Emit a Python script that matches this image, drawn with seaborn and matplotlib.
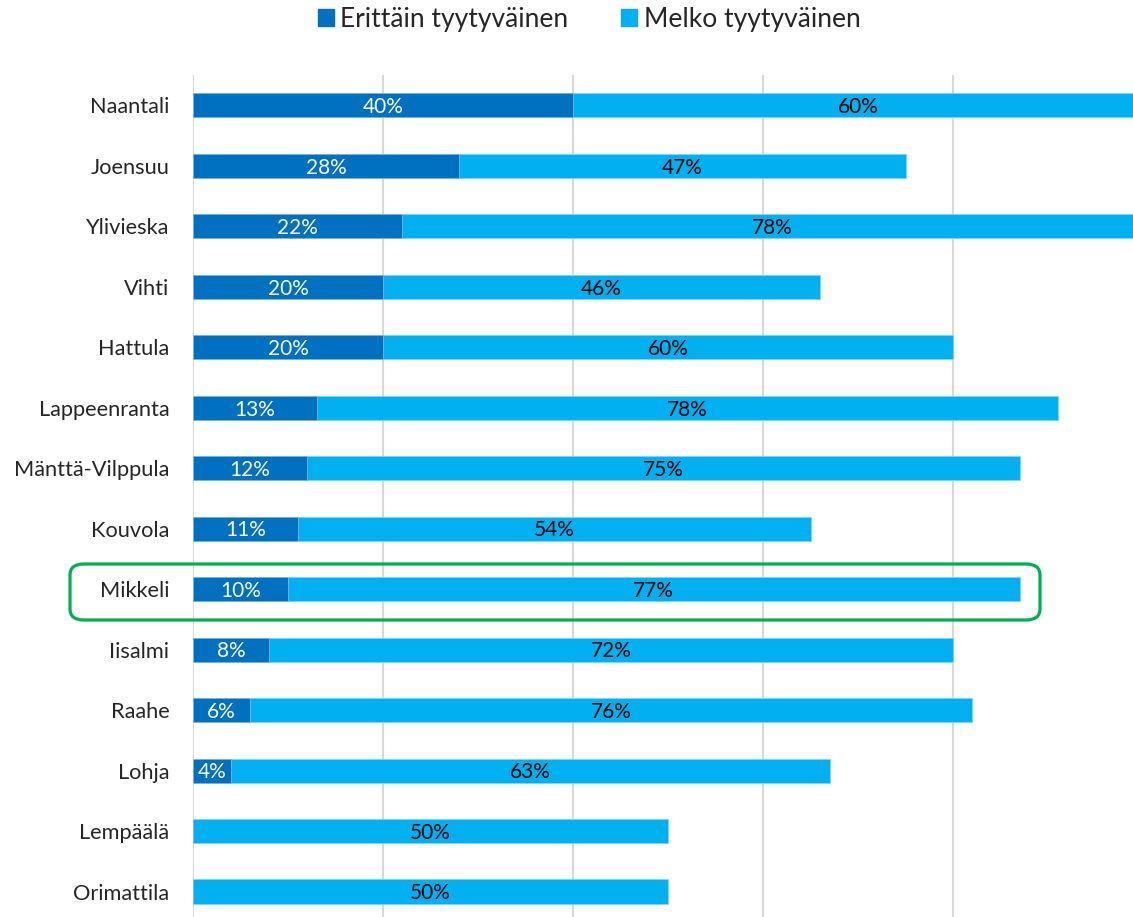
import pandas as pd
import numpy as np
import matplotlib.pyplot as plt
import seaborn as sns
from matplotlib.patches import Patch, FancyBboxPatch

# Data
kunnat = ['Naantali', 'Joensuu', 'Ylivieska', 'Vihti', 'Hattula', 'Lappeenranta',
          'Mänttä-Vilppula', 'Kouvola', 'Mikkeli', 'Iisalmi', 'Raahe', 'Lohja',
          'Lempäälä', 'Orimattila']
erittain = [40, 28, 22, 20, 20, 13, 12, 11, 10, 8, 6, 4, 0, 0]
melko = [60, 47, 78, 46, 60, 78, 75, 54, 77, 72, 76, 63, 50, 50]

dark_blue = '#0070C0'
light_blue = '#00B0F0'

df = pd.DataFrame({'kunta': kunnat, 'erittain': erittain, 'melko': melko})
df['yhteensa'] = df['erittain'] + df['melko']

sns.set_style('white')
plt.rcParams['font.family'] = ['Lato', 'DejaVu Sans']

fig = plt.figure(figsize=(11.33, 9.17), dpi=100)
ax = fig.add_axes([193 / 1133, 0.0, 940 / 1133, (917 - 75) / 917])

# light blue = total, dark blue drawn over it
sns.barplot(data=df, y='kunta', x='yhteensa', color=light_blue, orient='h',
            width=0.4, ax=ax, edgecolor='#7fd7f7', linewidth=0.6, saturation=1)
sns.barplot(data=df, y='kunta', x='erittain', color=dark_blue, orient='h',
            width=0.4, ax=ax, edgecolor='#7fb7e0', linewidth=0.6, saturation=1)

bars_total = ax.containers[0]
bars_dark = ax.containers[1]

for bar, e, m in zip(bars_total, erittain, melko):
    y = bar.get_y() + bar.get_height() / 2
    ax.text(e + m / 2, y + 0.03, f'{m}%', ha='center', va='center', fontsize=15, color='black')
for bar, e in zip(bars_dark, erittain):
    if e > 0:
        y = bar.get_y() + bar.get_height() / 2
        ax.text(e / 2, y + 0.03, f'{e}%', ha='center', va='center', fontsize=15, color='white')

ax.set_xlim(0, 940 / 9.5)
ax.set_ylim(13.42, -0.5)
ax.set_xticks([0, 20, 40, 60, 80])
ax.set_xticklabels([])
ax.grid(axis='x', color='#d9d9d9', linewidth=1.5)
ax.set_axisbelow(True)
ax.set_xlabel('')
ax.set_ylabel('')
ax.tick_params(axis='y', length=0, pad=17, labelsize=15.7)
ax.tick_params(axis='x', length=0)
sns.despine(ax=ax, left=True, bottom=True, top=True, right=True)

# legend
handles = [Patch(color=dark_blue, label='Erittäin tyytyväinen'),
           Patch(color=light_blue, label='Melko tyytyväinen')]
fig.legend(handles=handles, loc='center', bbox_to_anchor=(589 / 1133, 1 - 19 / 917),
           ncol=2, frameon=False, fontsize=19, handlelength=0.6, handleheight=0.6,
           handletextpad=0.25, columnspacing=2.0)

# highlight box around Mikkeli
box = FancyBboxPatch((70 / 1133, 1 - 620 / 917), (1040 - 70) / 1133, 56 / 917,
                     boxstyle='round,pad=0,rounding_size=0.012', transform=fig.transFigure,
                     fill=False, edgecolor='#00B050', linewidth=2.3, zorder=10)
fig.patches.append(box)

plt.savefig('out.png', dpi=100)
